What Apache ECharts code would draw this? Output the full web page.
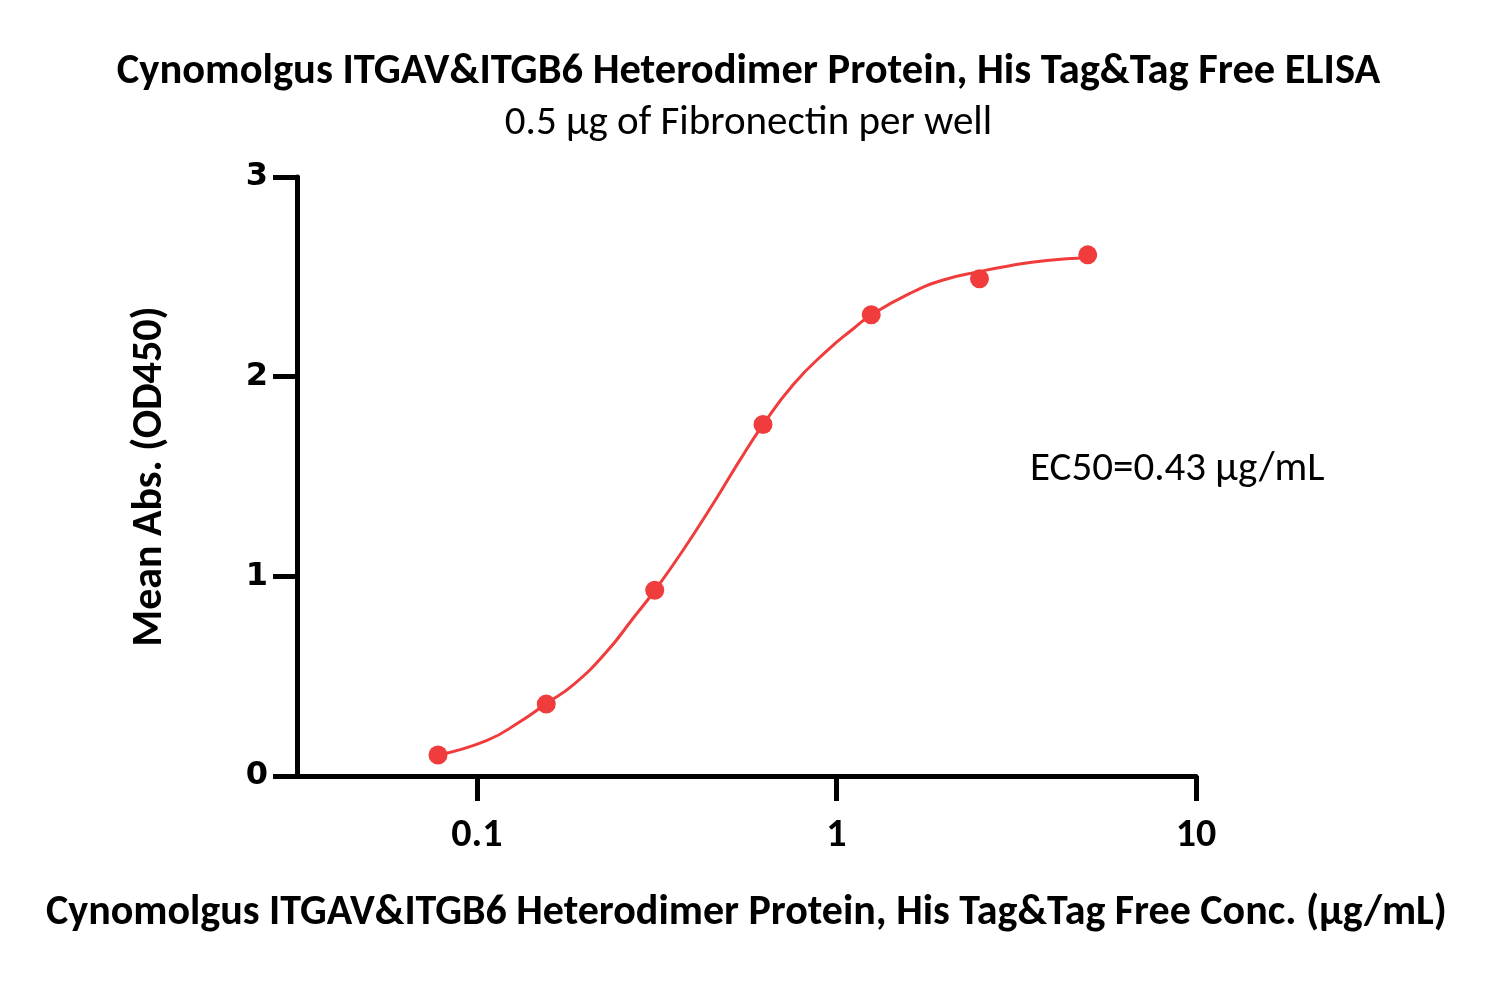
<!DOCTYPE html>
<html>
<head>
<meta charset="utf-8">
<script src="https://cdn.jsdelivr.net/npm/echarts@6/dist/echarts.min.js"></script>
<style>
html,body{margin:0;padding:0;background:#fff;}
#chart{width:1497px;height:981px;}
</style>
</head>
<body>
<div id="chart"></div>
<script>
// Measured data points (concentration in µg/mL, OD450)
const concentrations = [0.078, 0.156, 0.3125, 0.625, 1.25, 2.5, 5];
const meanAbs = [0.105, 0.36, 0.93, 1.76, 2.31, 2.49, 2.61];

// Fitted curve
const curveX = [0.078, 0.1064, 0.1318, 0.156, 0.1854, 0.2296, 0.2721, 0.3126, 0.375, 0.4642, 0.539, 0.6245, 0.758, 0.939, 1.114, 1.247, 1.601, 1.982, 2.496, 3.038, 3.843, 4.975];
const curveY = [0.105, 0.177, 0.272, 0.363, 0.456, 0.622, 0.790, 0.929, 1.132, 1.391, 1.582, 1.758, 1.960, 2.128, 2.240, 2.308, 2.417, 2.484, 2.526, 2.556, 2.582, 2.596];

const xTicks = [0.1, 1, 10];
const yTicks = [0, 1, 2, 3];

const titleText = 'Cynomolgus ITGAV&ITGB6 Heterodimer Protein, His Tag&Tag Free ELISA';
const subtitleText = '0.5 μg of Fibronectin per well';
const xName = 'Cynomolgus ITGAV&ITGB6 Heterodimer Protein, His Tag&Tag Free Conc. (μg/mL)';
const yName = 'Mean Abs. (OD450)';
const ec50Text = 'EC50=0.43 μg/mL';

const RED = '#F03C3C';
const FONT = 'Carlito, Lato, "Open Sans", sans-serif';

const chart = echarts.init(document.getElementById('chart'), null, {renderer: 'canvas'});
chart.setOption({
  animation: false,
  backgroundColor: '#ffffff',
  title: [
    {text: titleText, left: 'center', top: 46,
     textStyle: {fontFamily: FONT, fontWeight: 'bold', fontSize: 42.5, color: '#000'}},
    {text: subtitleText, left: 'center', top: 98,
     textStyle: {fontFamily: FONT, fontWeight: 'normal', fontSize: 41, color: '#000'}}
  ],
  grid: {left: 297, right: 301, top: 177, bottom: 205, containLabel: false},
  xAxis: {
    type: 'log', logBase: 10,
    min: Math.pow(10, -1.5), max: 10,
    name: xName, nameLocation: 'middle', nameGap: 116,
    nameTextStyle: {fontFamily: FONT, fontWeight: 'bold', fontSize: 42, color: '#000'},
    axisLine: {show: true, onZero: false, lineStyle: {color: '#000', width: 5}},
    axisTick: {show: true, length: 25, customValues: xTicks, lineStyle: {color: '#000', width: 5}},
    axisLabel: {show: true, customValues: xTicks, margin: 40,
      formatter: v => String(v),
      fontFamily: FONT, fontWeight: 'bold', fontSize: 40, color: '#000'},
    splitLine: {show: false},
    minorTick: {show: false}
  },
  yAxis: {
    type: 'value', min: 0, max: 3, interval: 1,
    name: yName, nameLocation: 'middle', nameGap: 126, nameRotate: 90,
    nameTextStyle: {fontFamily: FONT, fontWeight: 'bold', fontSize: 42, color: '#000'},
    axisLine: {show: true, lineStyle: {color: '#000', width: 5}},
    axisTick: {show: true, length: 24, lineStyle: {color: '#000', width: 5}},
    axisLabel: {margin: 29, fontFamily: '"DejaVu Sans", Verdana, sans-serif', fontWeight: 'bold', fontSize: 32, color: '#000',
      customValues: yTicks},
    splitLine: {show: false}
  },
  graphic: [
    {type: 'text', left: 1030, top: 449,
     style: {text: ec50Text, font: 'normal 41px ' + FONT, fill: '#000'}}
  ],
  series: [
    {type: 'line', data: curveX.map((x, i) => [x, curveY[i]]), smooth: 0.5,
     showSymbol: false, symbol: 'none', lineStyle: {color: RED, width: 3}, z: 2},
    {type: 'scatter', data: concentrations.map((x, i) => [x, meanAbs[i]]),
     symbol: 'circle', symbolSize: 19, itemStyle: {color: RED, opacity: 1}, z: 3}
  ]
});
</script>
</body>
</html>
